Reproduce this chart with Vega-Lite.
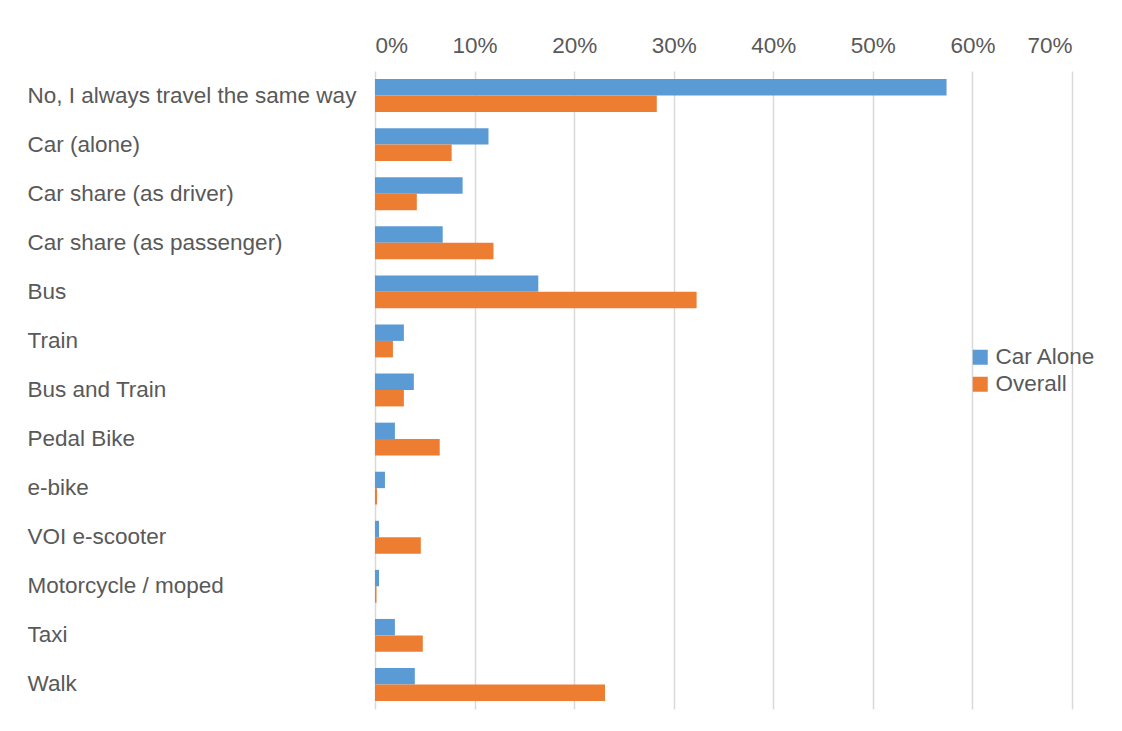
{
  "$schema": "https://vega.github.io/schema/vega-lite/v6.json",
  "width": 697,
  "height": 638,
  "autosize": {"type": "none"},
  "padding": {"left": 375, "top": 71, "right": 50, "bottom": 22},
  "background": "white",
  "config": {
    "view": {"stroke": null},
    "font": "Liberation Sans"
  },
  "data": {
    "values": [
      {"mode": "No, I always travel the same way", "group": "Car Alone", "share": 0.574},
      {"mode": "No, I always travel the same way", "group": "Overall", "share": 0.283},
      {"mode": "Car (alone)", "group": "Car Alone", "share": 0.114},
      {"mode": "Car (alone)", "group": "Overall", "share": 0.077},
      {"mode": "Car share (as driver)", "group": "Car Alone", "share": 0.088},
      {"mode": "Car share (as driver)", "group": "Overall", "share": 0.042},
      {"mode": "Car share (as passenger)", "group": "Car Alone", "share": 0.068},
      {"mode": "Car share (as passenger)", "group": "Overall", "share": 0.119},
      {"mode": "Bus", "group": "Car Alone", "share": 0.164},
      {"mode": "Bus", "group": "Overall", "share": 0.323},
      {"mode": "Train", "group": "Car Alone", "share": 0.029},
      {"mode": "Train", "group": "Overall", "share": 0.018},
      {"mode": "Bus and Train", "group": "Car Alone", "share": 0.039},
      {"mode": "Bus and Train", "group": "Overall", "share": 0.029},
      {"mode": "Pedal Bike", "group": "Car Alone", "share": 0.020},
      {"mode": "Pedal Bike", "group": "Overall", "share": 0.065},
      {"mode": "e-bike", "group": "Car Alone", "share": 0.010},
      {"mode": "e-bike", "group": "Overall", "share": 0.002},
      {"mode": "VOI e-scooter", "group": "Car Alone", "share": 0.004},
      {"mode": "VOI e-scooter", "group": "Overall", "share": 0.046},
      {"mode": "Motorcycle / moped", "group": "Car Alone", "share": 0.004},
      {"mode": "Motorcycle / moped", "group": "Overall", "share": 0.0015},
      {"mode": "Taxi", "group": "Car Alone", "share": 0.020},
      {"mode": "Taxi", "group": "Overall", "share": 0.048},
      {"mode": "Walk", "group": "Car Alone", "share": 0.040},
      {"mode": "Walk", "group": "Overall", "share": 0.231}
    ]
  },
  "mark": {"type": "bar", "stroke": null},
  "encoding": {
    "y": {
      "field": "mode",
      "type": "nominal",
      "sort": ["No, I always travel the same way", "Car (alone)", "Car share (as driver)", "Car share (as passenger)", "Bus", "Train", "Bus and Train", "Pedal Bike", "e-bike", "VOI e-scooter", "Motorcycle / moped", "Taxi", "Walk"],
      "scale": {"paddingInner": 0.33, "paddingOuter": 0.165},
      "axis": {
        "title": null,
        "domain": false,
        "ticks": false,
        "labelAlign": "left",
        "labelPadding": 348,
        "labelLimit": 400,
        "labelFontSize": 22.5,
        "labelColor": "#595959",
        "grid": false
      }
    },
    "yOffset": {
      "field": "group",
      "type": "nominal",
      "sort": ["Car Alone", "Overall"]
    },
    "x": {
      "field": "share",
      "type": "quantitative",
      "scale": {"domain": [0, 0.7], "nice": false},
      "axis": {
        "orient": "top",
        "title": null,
        "format": ".0%",
        "values": [0, 0.1, 0.2, 0.3, 0.4, 0.5, 0.6, 0.7],
        "domain": false,
        "ticks": false,
        "labelPadding": 14,
        "labelFontSize": 22.5,
        "labelColor": "#595959",
        "grid": true,
        "gridColor": "#d9d9d9",
        "gridWidth": 1.5
      }
    },
    "color": {
      "field": "group",
      "type": "nominal",
      "scale": {"domain": ["Car Alone", "Overall"], "range": ["#5B9BD5", "#ED7D31"]},
      "legend": {
        "title": null,
        "orient": "none",
        "legendX": 594,
        "legendY": 275,
        "symbolType": "square",
        "symbolSize": 225,
        "symbolStrokeWidth": 0,
        "labelFontSize": 22.5,
        "labelColor": "#595959",
        "labelOffset": 4,
        "rowPadding": 4
      }
    }
  }
}
